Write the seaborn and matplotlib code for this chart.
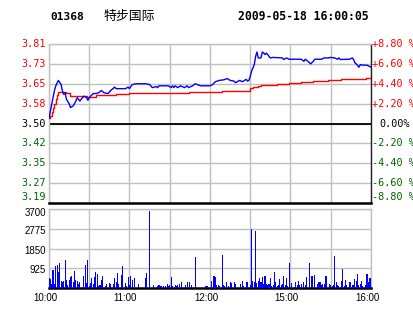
import numpy as np
import pandas as pd
import matplotlib
matplotlib.use("Agg")
import matplotlib.pyplot as plt
from matplotlib import transforms
import seaborn as sns

sns.set_theme(style="white")
plt.rcParams["font.family"] = ["DejaVu Sans"]

# ---------------- data ----------------
stock_code = "01368"
stock_name = "特步国际"
stamp = "2009-05-18 16:00:05"
prev_close = 3.50
pct_levels = [8.8, 6.6, 4.4, 2.2, 0.0, -2.2, -4.4, -6.6, -8.8]
time_ticks = [0, 30, 60, 90, 120, 150, 180, 210, 240]
time_labels = ["10:00", "", "11:00", "", "12:00", "", "15:00", "", "16:00"]
vol_ticks = [925, 1850, 2775, 3700]

price_min = [0, 2, 4, 5, 7, 9, 10, 11, 12, 13, 15, 16, 18, 19, 20, 21, 23, 24, 25, 26,
             28, 29, 30, 31, 33, 35, 37, 39, 41, 44, 46, 49, 50, 57, 59, 60, 62, 65, 72, 75,
             77, 80, 81, 82, 89, 91, 92, 93, 94, 96, 98, 101, 103, 104, 107, 109, 113, 120, 122, 124,
             127, 130, 133, 135, 138, 139, 142, 144, 147, 148, 149, 150, 151, 153, 154, 155, 156, 158, 159, 160,
             161, 162, 164, 165, 167, 174, 175, 177, 179, 188, 190, 191, 193, 195, 197, 198, 203, 205, 208, 210,
             213, 215, 216, 217, 224, 226, 227, 228, 229, 231, 232, 234, 237, 240]
price_val = [3.520, 3.574, 3.626, 3.645, 3.667, 3.651, 3.626, 3.613, 3.619, 3.594, 3.577, 3.562, 3.568, 3.577, 3.587, 3.600, 3.587, 3.594, 3.600, 3.606,
             3.600, 3.590, 3.600, 3.606, 3.616, 3.616, 3.619, 3.628, 3.619, 3.616, 3.628, 3.641, 3.635, 3.635, 3.641, 3.635, 3.651, 3.654, 3.654, 3.651,
             3.639, 3.643, 3.639, 3.646, 3.646, 3.639, 3.646, 3.639, 3.646, 3.639, 3.646, 3.639, 3.646, 3.639, 3.646, 3.654, 3.646, 3.646, 3.651, 3.662,
             3.667, 3.669, 3.674, 3.667, 3.664, 3.658, 3.667, 3.662, 3.671, 3.664, 3.667, 3.683, 3.703, 3.728, 3.760, 3.777, 3.754, 3.754, 3.777, 3.773,
             3.767, 3.773, 3.760, 3.754, 3.756, 3.754, 3.748, 3.754, 3.749, 3.749, 3.741, 3.749, 3.741, 3.731, 3.741, 3.749, 3.749, 3.754, 3.754, 3.756,
             3.754, 3.749, 3.754, 3.748, 3.749, 3.754, 3.748, 3.735, 3.731, 3.718, 3.728, 3.726, 3.726, 3.718]

avg_min = [0, 1, 2, 3, 4, 5, 6, 7, 13, 16, 28, 35, 50, 60, 104, 129, 150, 152, 156, 158,
           162, 170, 179, 188, 197, 208, 218, 236, 240]
avg_val = [3.520, 3.530, 3.545, 3.560, 3.575, 3.595, 3.610, 3.622, 3.617, 3.606, 3.604, 3.609, 3.613, 3.617, 3.623, 3.627, 3.636, 3.643, 3.646, 3.648,
           3.651, 3.654, 3.658, 3.662, 3.666, 3.670, 3.674, 3.678, 3.678]

vol_min = [0, 1, 2, 3, 4, 5, 6, 7, 8, 9, 10, 11, 12, 13, 14, 15, 16, 17, 18, 19,
           20, 21, 22, 23, 26, 27, 28, 29, 30, 31, 32, 33, 34, 35, 36, 37, 38, 39, 40, 42,
           43, 45, 46, 48, 49, 50, 51, 52, 54, 55, 57, 58, 59, 60, 61, 62, 64, 67, 72, 73,
           75, 78, 81, 82, 83, 84, 85, 87, 88, 89, 90, 91, 92, 94, 95, 96, 97, 99, 102, 103,
           105, 106, 109, 117, 118, 121, 123, 124, 125, 126, 127, 129, 130, 131, 132, 134, 135, 136, 138, 139,
           143, 144, 145, 147, 148, 150, 151, 152, 153, 154, 155, 156, 157, 158, 159, 160, 161, 162, 163, 164,
           165, 166, 167, 168, 169, 170, 171, 172, 173, 174, 175, 176, 177, 178, 179, 181, 184, 185, 186, 187,
           188, 190, 191, 192, 194, 196, 198, 200, 201, 202, 203, 204, 205, 206, 207, 209, 210, 211, 212, 213,
           214, 215, 216, 218, 219, 220, 221, 222, 224, 225, 226, 227, 228, 229, 230, 231, 232, 233, 234, 236,
           237, 238, 239, 240]
vol_val = [468, 437, 203, 858, 203, 1045, 1092, 749, 1170, 343, 281, 312, 1326, 374, 156, 390, 499, 577, 281, 811,
           374, 343, 203, 281, 577, 1092, 250, 1326, 109, 234, 484, 203, 530, 764, 671, 109, 156, 390, 577, 109,
           203, 234, 203, 203, 484, 281, 718, 203, 624, 1045, 234, 109, 530, 156, 577, 390, 484, 203, 484, 718,
           3619, 156, 109, 156, 109, 109, 109, 109, 203, 109, 156, 530, 109, 156, 109, 156, 203, 296, 156, 296,
           296, 156, 1466, 109, 109, 343, 546, 499, 156, 140, 109, 1560, 156, 109, 281, 109, 296, 250, 296, 203,
           203, 343, 109, 296, 296, 156, 2777, 343, 296, 2683, 250, 343, 484, 296, 530, 203, 577, 203, 156, 203,
           484, 109, 156, 764, 296, 109, 156, 437, 156, 203, 577, 156, 484, 109, 1186, 250, 296, 156, 343, 156,
           203, 296, 156, 530, 1186, 577, 624, 203, 296, 296, 156, 203, 203, 577, 577, 203, 156, 109, 156, 1513,
           296, 156, 109, 343, 905, 109, 390, 156, 296, 296, 156, 156, 437, 343, 671, 156, 203, 343, 109, 156,
           671, 281, 484, 484]

# ---------------- figure ----------------
W, H = 414, 314
fig = plt.figure(figsize=(W / 100, H / 100), dpi=100)
fig.patch.set_facecolor("white")
ax = fig.add_axes([49 / W, 1 - 203 / H, 322 / W, 159 / H])
axv = fig.add_axes([49 / W, 1 - 288 / H, 322 / W, 79 / H])

GRID = "#c0c0c0"
RED = "#ff0000"
GREEN = "#006400"
BLUE = "#0000ff"
MONO = "DejaVu Sans Mono"

levels = [prev_close * (1 + p / 100) for p in pct_levels]

# price panel
ax.set_xlim(0, 240)
ax.set_ylim(levels[-1], levels[0])
ax.set_xticks(time_ticks)
ax.set_yticks(levels)
ax.grid(True, color=GRID, lw=1)
ax.set_axisbelow(True)
ax.tick_params(length=0, labelbottom=False, labelleft=False)
ax.axhline(prev_close, color="black", lw=1.3, zorder=1.5)

df_p = pd.DataFrame({"m": price_min, "p": price_val})
df_a = pd.DataFrame({"m": avg_min, "p": avg_val})
sns.lineplot(data=df_a, x="m", y="p", ax=ax, color=RED, lw=1.0, estimator=None,
             drawstyle="steps-post", zorder=3)
sns.lineplot(data=df_p, x="m", y="p", ax=ax, color=BLUE, lw=1.0, estimator=None, zorder=4)
ax.set_xlabel("")
ax.set_ylabel("")

for s in ["left", "top"]:
    ax.spines[s].set_color(GRID)
    ax.spines[s].set_linewidth(1)
ax.spines["right"].set_color("#202020")
ax.spines["right"].set_linewidth(1)
ax.spines["bottom"].set_color("black")
ax.spines["bottom"].set_linewidth(1.8)

blend = transforms.blended_transform_factory(ax.transAxes, ax.transData)
for pct, lv in zip(pct_levels, levels):
    col = RED if pct > 0 else ("black" if pct == 0 else GREEN)
    dy = 6 if pct == pct_levels[-1] else 0
    tl = transforms.offset_copy(blend, fig=fig, x=-3, y=dy, units="dots")
    ax.text(0, lv, f"{lv:.2f}", transform=tl, ha="right", va="center",
            color=col, family=MONO, fontsize=7.3)
    if pct == 0:
        lab, dx = "0.00%", 8
    else:
        lab, dx = f"{pct:+.2f} %", 1
    tr = transforms.offset_copy(blend, fig=fig, x=dx, y=dy, units="dots")
    ax.text(1, lv, lab, transform=tr, ha="left", va="center",
            color=col, family=MONO, fontsize=7.3)

# volume panel
df_v = pd.DataFrame({"m": vol_min, "v": vol_val})
sns.barplot(data=df_v, x="m", y="v", ax=axv, native_scale=True, color=BLUE,
            width=0.8, linewidth=0, edgecolor="none", saturation=1, errorbar=None,
            zorder=3)
for patch in axv.patches:
    patch.set_antialiased(False)
    patch.set_facecolor(BLUE)
axv.set_xlim(0, 240)
axv.set_ylim(0, vol_ticks[-1])
axv.set_xticks(time_ticks)
axv.set_yticks(vol_ticks)
axv.grid(True, color=GRID, lw=1)
axv.set_axisbelow(True)
axv.tick_params(length=0, labelbottom=False, labelleft=False)
axv.set_xlabel("")
axv.set_ylabel("")
for s in ["left", "top", "right"]:
    axv.spines[s].set_color(GRID)
    axv.spines[s].set_linewidth(1)
axv.spines["bottom"].set_color("black")
axv.spines["bottom"].set_linewidth(1.8)

blendv = transforms.blended_transform_factory(axv.transAxes, axv.transData)
for t in vol_ticks:
    dy = -4 if t == vol_ticks[-1] else -2
    tv = transforms.offset_copy(blendv, fig=fig, x=-3, y=dy, units="dots")
    axv.text(0, t, str(t), transform=tv, ha="right", va="center",
             color="black", family="Liberation Sans", fontsize=7)

blendx = transforms.blended_transform_factory(axv.transData, axv.transAxes)
for t, lab in zip(time_ticks, time_labels):
    if lab:
        tx = transforms.offset_copy(blendx, fig=fig, x=-4, y=-10, units="dots")
        axv.text(t, 0, lab, transform=tx, ha="center", va="center",
                 color="black", family="Liberation Sans", fontsize=7)

# header
fig.text(50 / W, 1 - 17 / H, stock_code, family=MONO, weight="bold", fontsize=8.1,
         va="center", ha="left", color="black")
fig.text(104 / W, 1 - 16 / H, stock_name, family=["Noto Sans CJK SC", "DejaVu Sans"],
         fontsize=9.3, va="center", ha="left", color="black")
fig.text(238 / W, 1 - 17 / H, stamp, family=MONO, weight="bold", fontsize=8.3,
         va="center", ha="left", color="black")

fig.savefig("out.png", dpi=100, facecolor="white")
